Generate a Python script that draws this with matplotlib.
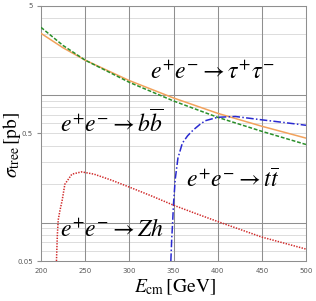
import matplotlib
matplotlib.use("Agg")
import matplotlib.pyplot as plt
import numpy as np
from matplotlib.ticker import FixedLocator, NullFormatter

plt.rcParams['mathtext.fontset'] = 'stix'

# Data
E_tau = [200, 225, 250, 300, 350, 400, 450, 500]
sig_tau = [3.05, 2.35, 1.88, 1.30, 0.95, 0.72, 0.57, 0.46]

E_bb = [200, 225, 250, 300, 350, 400, 450, 500]
sig_bb = [3.40, 2.45, 1.88, 1.26, 0.90, 0.67, 0.52, 0.41]

E_tt = [347, 348, 349, 350, 352, 355, 360, 366, 372, 380, 386, 400, 420, 450, 475, 500]
sig_tt = [0.05, 0.075, 0.10, 0.14, 0.22, 0.32, 0.42, 0.48, 0.53, 0.59, 0.63, 0.67, 0.68, 0.64, 0.61, 0.58]

E_zh = [217.5, 218.5, 219.5, 221.5, 224, 227, 235, 246, 260, 280, 300, 325, 350, 375, 400, 450, 500]
sig_zh = [0.05, 0.08, 0.105, 0.125, 0.15, 0.20, 0.24, 0.25, 0.24, 0.215, 0.19, 0.162, 0.137, 0.118, 0.102, 0.077, 0.062]

x_ticks = [200, 250, 300, 350, 400, 450, 500]
y_ticks = [0.05, 0.5, 5]
y_tick_labels = ["0.05", "0.5", "5"]

fig = plt.figure(figsize=(3.16, 3.01), dpi=100)
ax = fig.add_axes([41/316, 1-261/301, 265/316, 255/301])
ax.set_xlim(200, 500)
ax.set_yscale('log')
ax.set_ylim(0.05, 5)

# gridlines
minor_y = [v * d for d in (0.01, 0.1, 1) for v in range(2, 10)]
minor_y = [v for v in minor_y if 0.05 < v < 5 and abs(v - 0.1) > 1e-9 and abs(v - 1) > 1e-9]
for v in minor_y:
    ax.axhline(v, color='#dcdcdc', lw=0.7, zorder=0)
for v in (0.1, 1, 5):
    ax.axhline(v, color='#8f8f8f', lw=0.75, zorder=0)
for v in x_ticks[1:-1]:
    ax.axvline(v, color='#8f8f8f', lw=0.75, zorder=0)

ax.plot(E_tau, sig_tau, color='#f2a25c', lw=1.1, zorder=3)
ax.plot(E_bb, sig_bb, color='#2a8f2a', lw=1.1, ls=(0, (2.5, 1.2)), zorder=3)
ax.plot(E_tt, sig_tt, color='#2a2ad0', lw=1.1, ls=(0, (5, 1.5, 1, 1.5)), zorder=3)
ax.plot(E_zh, sig_zh, color='#d02828', lw=1.1, ls=(0, (0.9, 0.9)), zorder=3)

ax.xaxis.set_major_locator(FixedLocator(x_ticks))
ax.set_xticklabels([str(t) for t in x_ticks])
ax.yaxis.set_major_locator(FixedLocator(y_ticks))
ax.set_yticklabels(y_tick_labels)
ax.yaxis.set_minor_formatter(NullFormatter())
ax.yaxis.set_minor_locator(FixedLocator([]))
ax.tick_params(axis='both', labelsize=5, colors='#595959', length=0, pad=5)
ax.tick_params(axis='y', length=3, color='#8f8f8f', pad=3)
for s in ax.spines.values():
    s.set_color('#8f8f8f')
    s.set_linewidth(0.75)

kw = dict(fontsize=17, ha='left', va='center', transform=fig.transFigure)
fig.text(150/316, 1-72/301, r'$e^{+}e^{-}\rightarrow\tau^{+}\tau^{-}$', **kw)
fig.text(60/316, 1-123/301, r'$e^{+}e^{-}\rightarrow b\overline{b}$', **kw)
fig.text(186/316, 1-180/301, r'$e^{+}e^{-}\rightarrow t\overline{t}$', **kw)
fig.text(60/316, 1-230/301, r'$e^{+}e^{-}\rightarrow Zh$', **kw)

fig.text(12/316, 1-145/301, r'$\sigma_{\mathrm{tree}}\,[\mathrm{pb}]$', fontsize=14, rotation=90,
         ha='center', va='center')
fig.text(175/316, 1-287/301, r'$E_{\mathrm{cm}}\,[\mathrm{GeV}]$', fontsize=14,
         ha='center', va='center')

fig.savefig('out.png', dpi=100)
